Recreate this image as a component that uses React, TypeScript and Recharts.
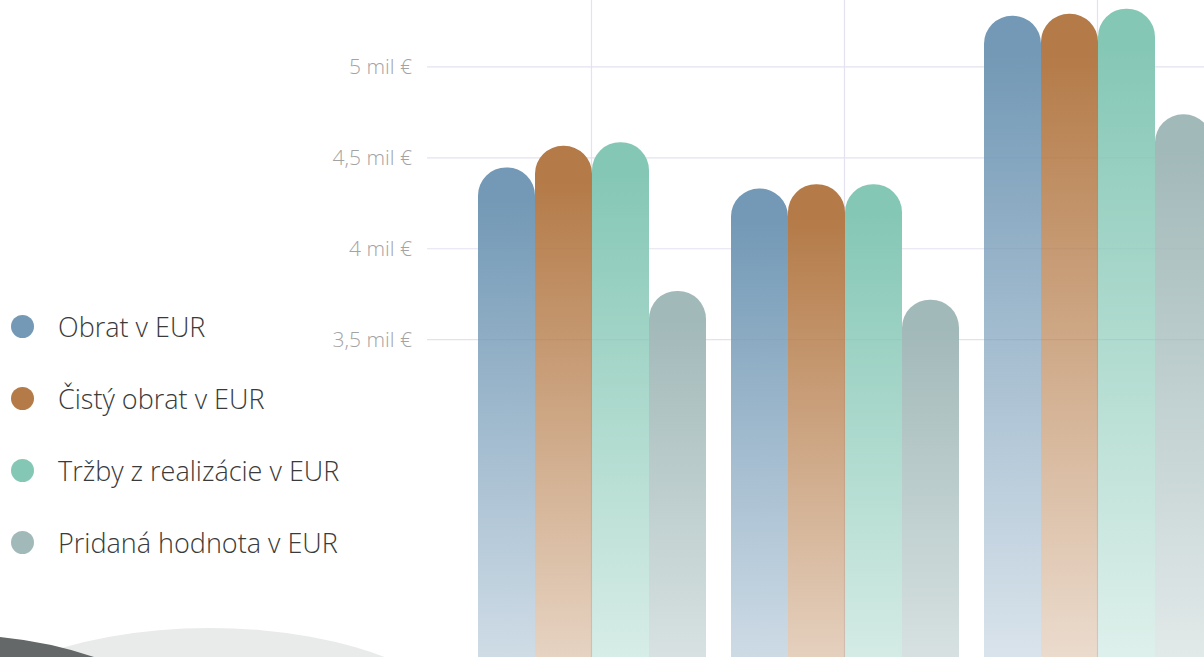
import { BarChart, Bar, XAxis, YAxis, CartesianGrid } from "recharts";

// roky nie sú vo výreze vidieť, len poradie skupín
const years = ["2021", "2022", "2023"];

const obrat = [4.447, 4.331, 5.281];
const cistyObrat = [4.566, 4.355, 5.292];
const trzby = [4.586, 4.355, 5.32];
const pridanaHodnota = [3.768, 3.72, 4.739];

const yTicks = [3.5, 4, 4.5, 5];

const SERIES = [
  { key: "obrat", name: "Obrat v EUR", color: "#7399b6" },
  { key: "cistyObrat", name: "Čistý obrat v EUR", color: "#b47a47" },
  { key: "trzby", name: "Tržby z realizácie v EUR", color: "#85c7b5" },
  { key: "pridanaHodnota", name: "Pridaná hodnota v EUR", color: "#a2b9b9" },
];

const data = years.map((year, i) => ({
  year,
  obrat: obrat[i],
  cistyObrat: cistyObrat[i],
  trzby: trzby[i],
  pridanaHodnota: pridanaHodnota[i],
}));

const FONT = '"Open Sans", "Noto Sans", sans-serif';

function fmtMil(v: number): string {
  return `${String(v).replace(".", ",")} mil €`;
}

function Legend() {
  return (
    <div style={{ position: "absolute", left: 0, top: 290 }}>
      {SERIES.map((s) => (
        <div key={s.key} style={{ display: "flex", alignItems: "center", height: 72 }}>
          <span
            style={{
              width: 23,
              height: 23,
              borderRadius: "50%",
              background: s.color,
              marginLeft: 11,
              marginRight: 24,
              flexShrink: 0,
            }}
          />
          <span style={{ fontSize: 27, fontWeight: 300, color: "#3a3a3a", whiteSpace: "nowrap" }}>
            {s.name}
          </span>
        </div>
      ))}
    </div>
  );
}

export default function App() {
  return (
    <div
      style={{
        position: "fixed",
        left: 0,
        top: 0,
        width: 1204,
        height: 657,
        overflow: "hidden",
        background: "#fff",
        fontFamily: FONT,
      }}
    >
      {/* dekorácia vľavo dole */}
      <svg width={1204} height={657} style={{ position: "absolute", left: 0, top: 0 }}>
        <ellipse cx={210} cy={742} rx={262} ry={114} fill="#e9eaea" />
        <path d="M0,637 Q50,642 94,657 L0,657 Z" fill="#656868" />
      </svg>

      <Legend />

      <div style={{ position: "absolute", left: 0, top: -34 }}>
        <BarChart
          width={1280}
          height={1030}
          data={data}
          margin={{ top: 10, right: 8, left: 347, bottom: 20 }}
          barCategoryGap={13}
          barGap={0}
        >
          <defs>
            {SERIES.map((s) => (
              <linearGradient key={s.key} id={`grad-${s.key}`} x1="0" y1="0" x2="0" y2="1">
                <stop offset="0.04" stopColor={s.color} stopOpacity={1} />
                <stop offset="0.9" stopColor={s.color} stopOpacity={0} />
              </linearGradient>
            ))}
          </defs>
          <CartesianGrid stroke="#e3e2f0" strokeWidth={1.2} syncWithTicks />
          <XAxis dataKey="year" hide padding={{ left: 38, right: 48 }} />
          <YAxis
            width={80}
            domain={[0, 5.5]}
            ticks={yTicks}
            axisLine={false}
            tickLine={false}
            tickSize={0}
            tickMargin={15}
            tickFormatter={fmtMil}
            tick={{ fontSize: 21, fill: "#a3a3a3", fontFamily: FONT, fontWeight: 300 }}
          />
          {SERIES.map((s) => (
            <Bar
              key={s.key}
              dataKey={s.key}
              name={s.name}
              fill={`url(#grad-${s.key})`}
              radius={[28, 28, 0, 0]}
              isAnimationActive={false}
            />
          ))}
        </BarChart>
      </div>
    </div>
  );
}
